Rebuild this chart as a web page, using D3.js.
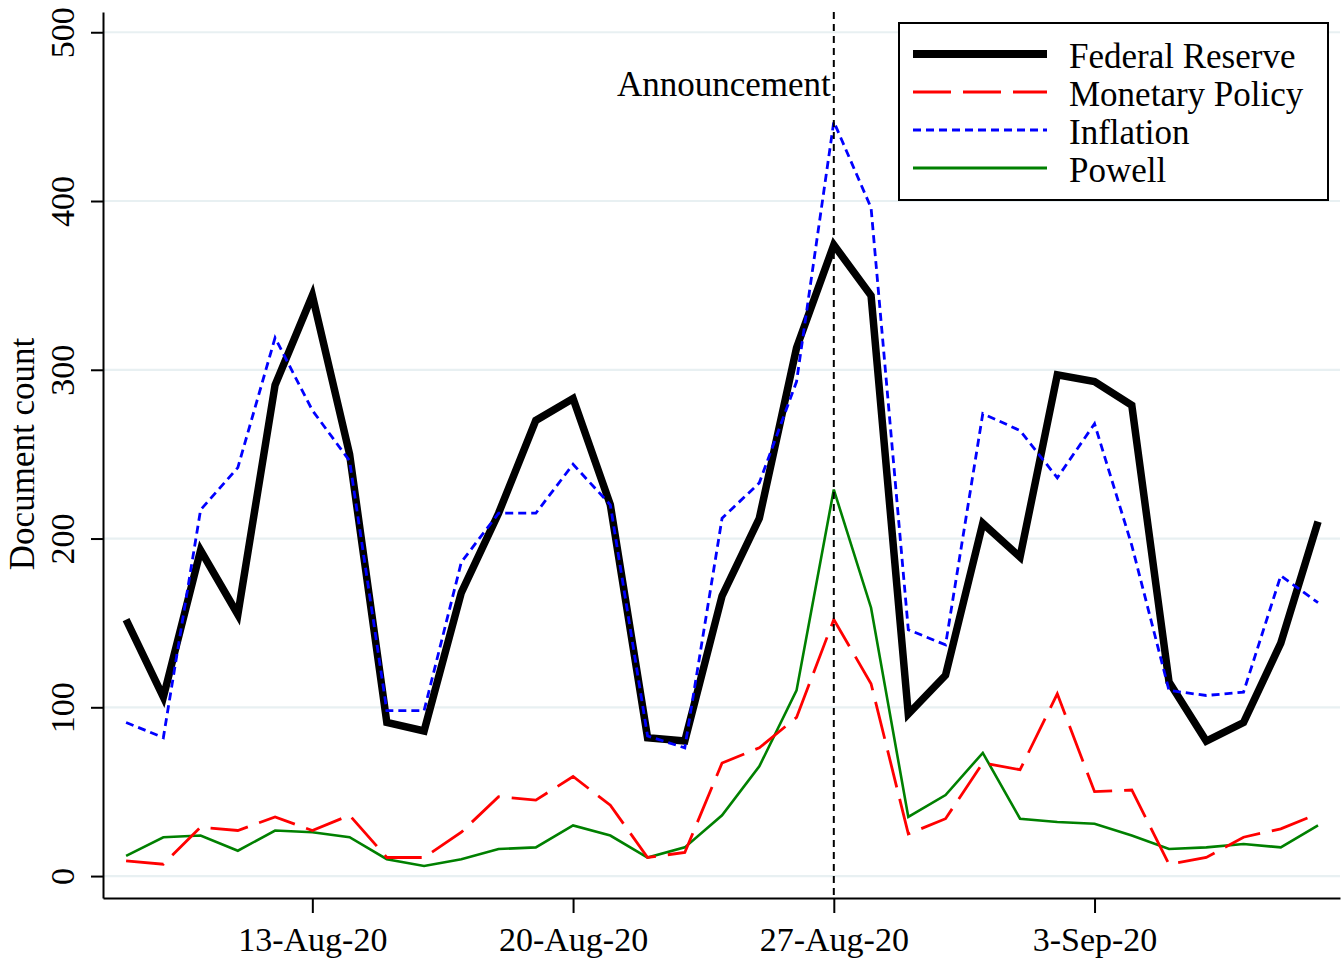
<!DOCTYPE html>
<html>
<head>
<meta charset="utf-8">
<script src="https://cdn.jsdelivr.net/npm/d3@7"></script>
<style>
  html, body { margin: 0; padding: 0; background: #ffffff; }
  svg { display: block; }
  text { font-family: "Liberation Serif", "Times New Roman", serif; }
</style>
</head>
<body>
<svg id="chart" width="1344" height="964"></svg>
<script>
// ---------------- data ----------------
const startDate = "2020-08-08";
const endDate = "2020-09-09";
const federalReserve = [152,106,193,155,291,344,250,91,86,168,215,270,283,220,82,80,166,212,313,374,344,96,119,209,189,297,293,279,115,80,91,138,210];
const monetaryPolicy = [9,7,29,27,35,27,36,11,11,26,47,45,59,42,11,14,67,76,94,152,114,25,34,67,63,108,50,51,7,11,23,28,37];
const inflation      = [91,82,217,242,319,276,246,98,98,186,215,215,244,220,83,76,212,233,293,447,396,146,137,274,264,236,268,196,110,107,109,178,162];
const powell         = [12,23,24,15,27,26,23,10,6,10,16,17,30,24,11,17,36,65,110,229,159,35,48,73,34,32,31,24,16,17,19,17,30];
const seriesNames = ["Federal Reserve","Monetary Policy","Inflation","Powell"];
const yTickValues = [0,100,200,300,400,500];
const xTickLabels = ["13-Aug-20","20-Aug-20","27-Aug-20","3-Sep-20"];
const announcementDate = "2020-08-27";
const announcementLabel = "Announcement";
const yAxisTitle = "Document count";

// ---------------- setup ----------------
const parse = d3.timeParse("%Y-%m-%d");
const parseTick = d3.timeParse("%d-%b-%y");
const dates = d3.timeDay.range(parse(startDate), d3.timeDay.offset(parse(endDate), 1));
const DAY = 864e5;

const svg = d3.select("#chart");
svg.append("rect").attr("width",1344).attr("height",964).attr("fill","#fff");

const x = d3.scaleTime()
  .domain([new Date(+parse(startDate) - 0.62*DAY), new Date(+parse(endDate) + 0.59*DAY)])
  .range([103, 1340]);
const y = d3.scaleLinear().domain([-13, 512]).range([898, 12]);

// gridlines
svg.append("g").selectAll("line").data(yTickValues).join("line")
  .attr("x1", 103).attr("x2", 1340)
  .attr("y1", d => y(d)).attr("y2", d => y(d))
  .attr("stroke", "#e8f0f2").attr("stroke-width", 2.2);

// series
const styles = [
  {data: federalReserve, color: "#000000", width: 7.5, dash: null},
  {data: monetaryPolicy, color: "#ff0000", width: 2.8, dash: "38,12"},
  {data: inflation,      color: "#0000ff", width: 2.8, dash: "8,5"},
  {data: powell,         color: "#008000", width: 2.6, dash: null}
];
const line = d3.line().x((d,i) => x(dates[i])).y(d => y(d));

const drawOrder = [3,1,0,2];
drawOrder.forEach(k => {
  const s = styles[k];
  svg.append("path").datum(s.data)
    .attr("d", line)
    .attr("fill","none")
    .attr("stroke", s.color)
    .attr("stroke-width", s.width)
    .attr("stroke-linejoin","miter")
    .attr("stroke-dasharray", s.dash);
});

// announcement line
const ax = x(parse(announcementDate));
svg.append("line").attr("x1", ax).attr("x2", ax).attr("y1", 12).attr("y2", 898)
  .attr("stroke","#000").attr("stroke-width",2).attr("stroke-dasharray","7,5");
svg.append("text").attr("x", ax - 3).attr("y", 96).attr("text-anchor","end")
  .attr("font-size", 35).text(announcementLabel);

// y axis
const yAxis = svg.append("g").attr("transform","translate(103,0)")
  .call(d3.axisLeft(y).tickValues(yTickValues).tickSize(12).tickSizeOuter(0).tickFormat(d3.format("d")));
yAxis.select(".domain").attr("stroke","#000").attr("stroke-width",2);
yAxis.selectAll(".tick line").attr("stroke","#000").attr("stroke-width",2);
yAxis.selectAll(".tick text")
  .attr("x",0).attr("dy",0).attr("y",0)
  .attr("transform","translate(-29,0) rotate(-90)")
  .attr("text-anchor","middle")
  .attr("font-size",34)
  .attr("font-family","Liberation Serif")
  .attr("fill","#000");

// x axis
const xAxis = svg.append("g").attr("transform","translate(0,898)")
  .call(d3.axisBottom(x).tickValues(xTickLabels.map(parseTick)).tickSize(15).tickSizeOuter(0)
    .tickFormat((d,i) => xTickLabels[i]));
xAxis.select(".domain").attr("stroke","#000").attr("stroke-width",2);
xAxis.selectAll(".tick line").attr("stroke","#000").attr("stroke-width",2);
xAxis.selectAll(".tick text").attr("dy",0).attr("y",53)
  .attr("font-size",34).attr("font-family","Liberation Serif").attr("fill","#000");

// y title
svg.append("text").attr("transform","translate(34,454) rotate(-90)")
  .attr("text-anchor","middle").attr("font-size",35).text(yAxisTitle);

// legend
const lg = svg.append("g");
lg.append("rect").attr("x",899).attr("y",23).attr("width",429).attr("height",177)
  .attr("fill","#fff").attr("stroke","#000").attr("stroke-width",2);
styles.forEach((s,i) => {
  const yy = 54 + i*38;
  lg.append("line").attr("x1",913).attr("x2",1047).attr("y1",yy).attr("y2",yy)
    .attr("stroke",s.color).attr("stroke-width", i===0 ? 8 : 3)
    .attr("stroke-dasharray", s.dash);
  lg.append("text").attr("x",1069).attr("y",yy+14).attr("font-size",35).text(seriesNames[i]);
});
</script>
</body>
</html>
